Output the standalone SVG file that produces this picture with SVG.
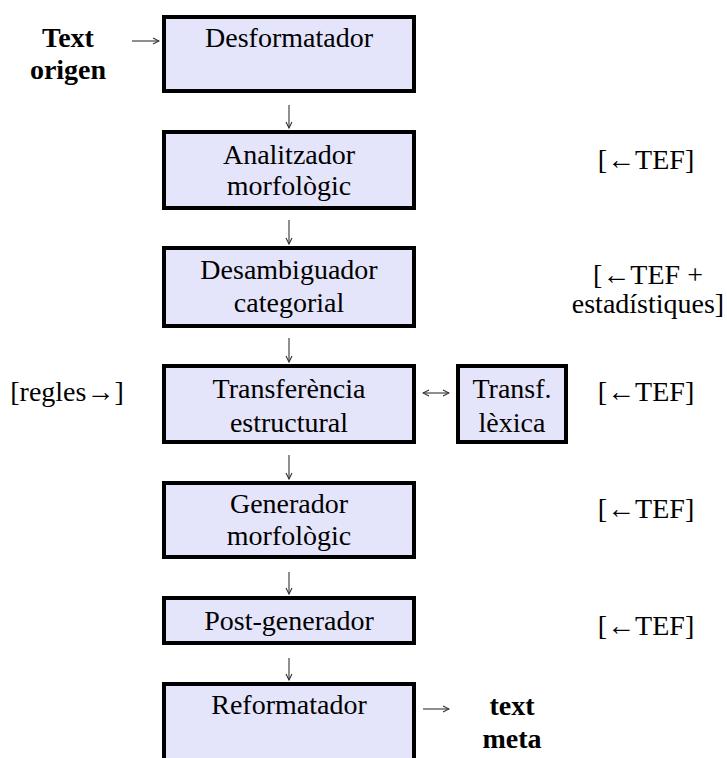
<svg xmlns="http://www.w3.org/2000/svg" width="727" height="758" viewBox="0 0 727 758">
<defs>
<style>
.box{fill:#e4e4fa;stroke:#000;stroke-width:4}
.t{font-family:"Liberation Serif","Times New Roman",serif;font-size:28px;fill:#000;text-anchor:middle}
.b{font-weight:bold}
.c{stroke:#333;stroke-width:1.1;fill:none}
</style>
<marker id="ah" viewBox="0 0 8 8" refX="7" refY="4" markerWidth="8" markerHeight="8" markerUnits="userSpaceOnUse" orient="auto-start-reverse">
<path d="M1,1 L7,4 L1,7" fill="none" stroke="#333" stroke-width="1.1"/>
</marker>
</defs>
<rect width="727" height="758" fill="#fff"/>
<g id="connectors">
<line class="c" x1="132" y1="41" x2="159" y2="41" marker-end="url(#ah)"/>
<line class="c" x1="289" y1="105" x2="289" y2="128" marker-end="url(#ah)"/>
<line class="c" x1="289" y1="220" x2="289" y2="244" marker-end="url(#ah)"/>
<line class="c" x1="289" y1="338" x2="289" y2="362" marker-end="url(#ah)"/>
<line class="c" x1="289" y1="455" x2="289" y2="479" marker-end="url(#ah)"/>
<line class="c" x1="289" y1="572" x2="289" y2="594" marker-end="url(#ah)"/>
<line class="c" x1="289" y1="658" x2="289" y2="680" marker-end="url(#ah)"/>
<line class="c" x1="423" y1="393" x2="449" y2="393" marker-start="url(#ah)" marker-end="url(#ah)"/>
<line class="c" x1="423" y1="709" x2="449" y2="709" marker-end="url(#ah)"/>
</g>
<g id="text-origen">
<text class="t b" x="68" y="47">Text</text>
<text class="t b" x="68" y="79">origen</text>
</g>
<g id="desformatador">
<rect class="box" x="164" y="17" width="250" height="74"/>
<text class="t" x="289" y="47">Desformatador</text>
</g>
<g id="analitzador">
<rect class="box" x="164" y="132" width="250" height="76"/>
<text class="t" x="289" y="164">Analitzador</text>
<text class="t" x="289" y="195">morfològic</text>
</g>
<g id="desambiguador">
<rect class="box" x="164" y="248" width="250" height="78"/>
<text class="t" x="289" y="279">Desambiguador</text>
<text class="t" x="289" y="312">categorial</text>
</g>
<g id="transferencia">
<rect class="box" x="164" y="366" width="250" height="76"/>
<text class="t" x="289" y="398">Transferència</text>
<text class="t" x="289" y="432">estructural</text>
</g>
<g id="transf-lexica">
<rect class="box" x="458" y="366" width="108" height="76"/>
<text class="t" x="512" y="398">Transf.</text>
<text class="t" x="512" y="432">lèxica</text>
</g>
<g id="generador">
<rect class="box" x="164" y="483" width="250" height="74"/>
<text class="t" x="289" y="513">Generador</text>
<text class="t" x="289" y="545">morfològic</text>
</g>
<g id="post-generador">
<rect class="box" x="164" y="598" width="250" height="45"/>
<text class="t" x="289" y="630">Post-generador</text>
</g>
<g id="reformatador">
<rect class="box" x="164" y="684" width="250" height="90"/>
<text class="t" x="289" y="714">Reformatador</text>
</g>
<g id="text-meta">
<text class="t b" x="512" y="715">text</text>
<text class="t b" x="512" y="748">meta</text>
</g>
<g id="annotations">
<text class="t" x="67" y="401">[regles→]</text>
<text class="t" x="646" y="169">[←TEF]</text>
<text class="t" x="648" y="284">[←TEF +</text>
<text class="t" x="648" y="313">estadístiques]</text>
<text class="t" x="646" y="401">[←TEF]</text>
<text class="t" x="646" y="518">[←TEF]</text>
<text class="t" x="646" y="635">[←TEF]</text>
</g>
</svg>
